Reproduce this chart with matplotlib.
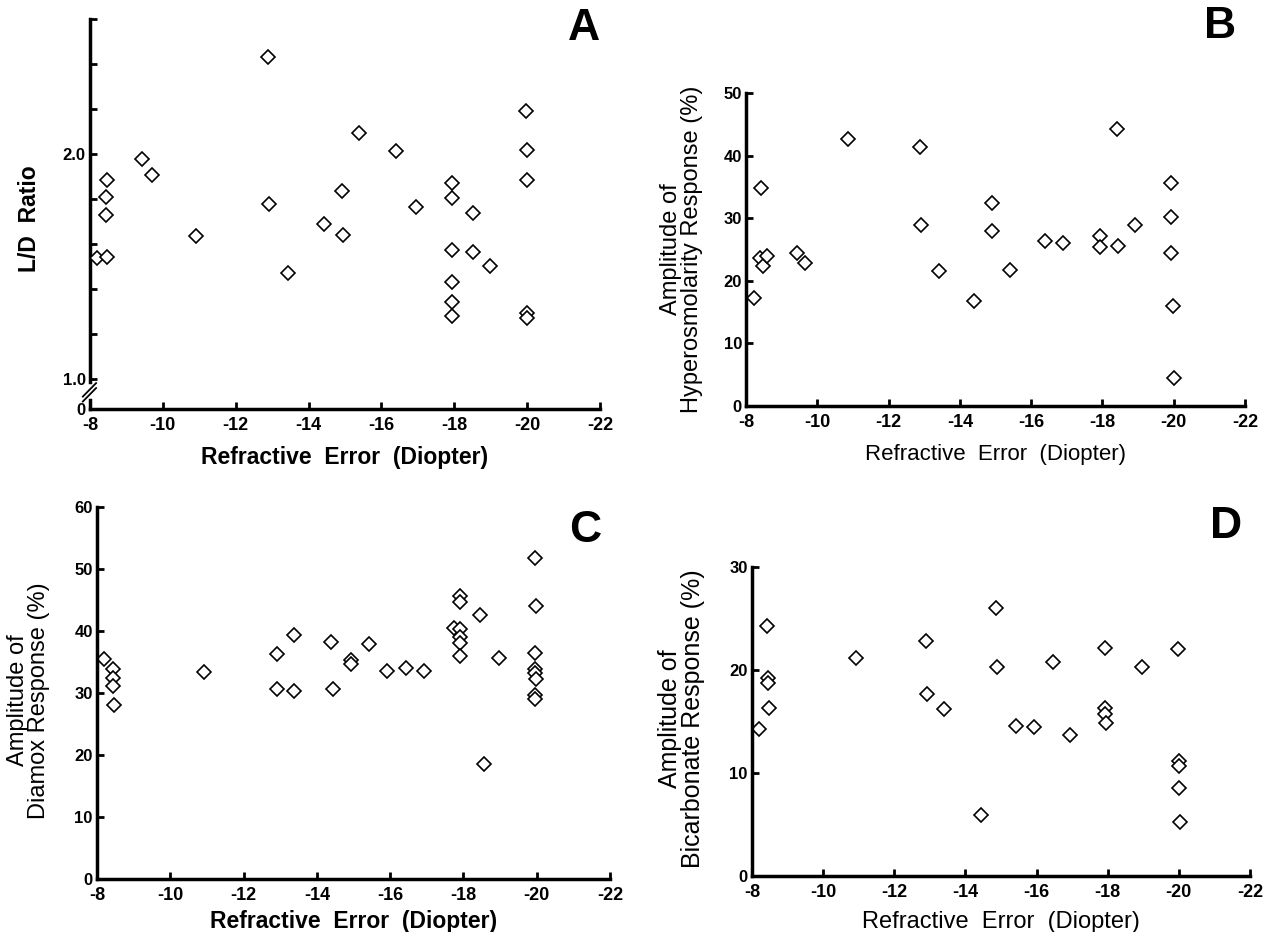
import matplotlib
matplotlib.use("Agg")
import matplotlib.pyplot as plt

plt.rcParams['font.family'] = ['Liberation Sans', 'DejaVu Sans']

# Panel A: L/D ratio vs refractive error
a_x = [-8.2, -8.46, -8.45, -8.45, -8.48, -9.44, -9.7, -10.92, -12.88, -12.9, -13.44,
       -14.42, -14.91, -14.94, -15.39, -16.4, -16.94, -17.94, -17.94, -17.94, -17.94,
       -17.94, -17.94, -18.5, -18.5, -18.99, -19.97, -20.0, -20.0, -20.0, -20.0]
a_y = [1.536, 1.884, 1.81, 1.73, 1.544, 1.979, 1.907, 1.637, 2.43, 1.776, 1.47,
       1.689, 1.836, 1.639, 2.093, 2.012, 1.763, 1.873, 1.803, 1.572, 1.433,
       1.344, 1.28, 1.739, 1.563, 1.502, 2.193, 2.019, 1.883, 1.292, 1.273]

# Panel B: hyperosmolarity response
b_x = [-8.22, -8.42, -8.38, -8.47, -8.6, -9.43, -9.66, -10.87, -12.88, -12.92, -13.4,
       -14.4, -14.9, -14.91, -15.41, -16.4, -16.9, -17.92, -17.92, -18.42, -18.44,
       -18.92, -19.92, -19.92, -19.92, -19.97, -20.0]
b_y = [17.2, 34.9, 23.6, 22.4, 23.9, 24.4, 22.9, 42.6, 41.4, 28.9, 21.5,
       16.7, 32.4, 27.9, 21.7, 26.4, 26.1, 27.1, 25.4, 44.3, 25.5,
       28.9, 35.6, 30.2, 24.4, 16.0, 4.4]

# Panel C: Diamox response
c_x = [-8.19, -8.45, -8.45, -8.44, -8.46, -10.93, -12.9, -12.9, -13.39, -13.39, -14.4,
       -14.44, -14.93, -14.93, -15.41, -15.92, -16.42, -16.92, -17.75, -17.92, -17.92,
       -17.92, -17.92, -17.92, -17.92, -18.45, -18.55, -18.96, -19.96, -19.97, -19.96,
       -19.96, -19.96, -19.98, -19.96, -19.96]
c_y = [35.5, 33.9, 32.4, 31.2, 28.1, 33.4, 36.3, 30.6, 39.3, 30.4, 38.2,
       30.6, 35.3, 34.6, 37.9, 33.5, 34.0, 33.5, 40.5, 45.6, 44.6,
       40.4, 39.0, 38.1, 35.9, 42.5, 18.6, 35.7, 51.7, 44.1, 36.4,
       33.9, 33.2, 32.2, 29.7, 29.0]

# Panel D: bicarbonate response
d_x = [-8.2, -8.41, -8.45, -8.45, -8.47, -10.91, -12.88, -12.92, -13.4, -14.43, -14.86,
       -14.89, -15.42, -15.94, -16.45, -16.93, -17.92, -17.92, -17.92, -17.94, -18.97,
       -19.97, -20.0, -20.0, -20.0, -20.02]
d_y = [14.27, 24.24, 19.26, 18.74, 16.34, 21.2, 22.8, 17.7, 16.2, 5.95, 26.05,
       20.3, 14.56, 14.43, 20.8, 13.66, 22.1, 16.3, 15.76, 14.9, 20.3,
       22.04, 11.2, 10.65, 8.58, 5.24]

x_ticks = [-8, -10, -12, -14, -16, -18, -20, -22]
x_title = "Refractive  Error  (Diopter)"

fig = plt.figure(figsize=(12.69, 9.32), dpi=100)

def style_axes(ax, ymin, ymax, yticks):
    ax.set_xlim(-8, -22)
    ax.set_ylim(ymin, ymax)
    ax.set_xticks(x_ticks)
    ax.set_xticklabels([str(t) for t in x_ticks])
    ax.set_yticks(yticks)
    for s in ['top', 'right']:
        ax.spines[s].set_visible(False)
    for s in ['left', 'bottom']:
        ax.spines[s].set_linewidth(2.5)
    ax.tick_params(direction='in', length=5, width=2)
    ax.tick_params(axis='x', labelsize=13, pad=6)
    ax.tick_params(axis='y', labelsize=12, pad=3)
    for lab in ax.get_xticklabels() + ax.get_yticklabels():
        lab.set_fontweight('bold')

def scatter(ax, x, y):
    ax.plot(x, y, linestyle='none', marker='D', markersize=7.3,
            markerfacecolor='white', markeredgecolor='black', markeredgewidth=1.2,
            clip_on=False)

# A
axA = fig.add_axes([0.0709, 0.5612, 0.402, 0.4184])
a_bottom = 0.867
style_axes(axA, a_bottom, 2.6, [a_bottom, 1.0, 1.2, 1.4, 1.6, 1.8, 2.0, 2.2, 2.4, 2.6])
axA.set_yticklabels(['0', '1.0', '', '', '', '', '2.0', '', '', ''])
axA.spines['left'].set_visible(False)
ytr = axA.get_yaxis_transform()
axA.plot([0, 0], [0.985, 2.6], color='black', lw=2.5, transform=ytr, clip_on=False)
axA.plot([0, 0], [a_bottom, 0.905], color='black', lw=2.5, transform=ytr, clip_on=False)
for dy in (0.0, 0.022):
    axA.plot([-0.014, 0.012], [0.9 + dy, 0.96 + dy], color='black', lw=1.3,
             transform=ytr, clip_on=False)
scatter(axA, a_x, a_y)
axA.set_xlabel(x_title, fontsize=16.5, fontweight='bold')
axA.xaxis.set_label_coords(0.5, -0.095)
axA.set_ylabel("L/D  Ratio", fontsize=16.5, fontweight='bold')
axA.yaxis.set_label_coords(-0.096, 0.487)

# B
axB = fig.add_axes([0.5879, 0.5644, 0.3932, 0.3358])
style_axes(axB, 0, 50, [0, 10, 20, 30, 40, 50])
scatter(axB, b_x, b_y)
axB.set_xlabel(x_title, fontsize=16)
axB.xaxis.set_label_coords(0.5, -0.121)
axB.set_ylabel("Amplitude of\nHyperosmolarity Response (%)", fontsize=17, linespacing=0.95)
axB.yaxis.set_label_coords(-0.086, 0.5)

# C
axC = fig.add_axes([0.0764, 0.0569, 0.4043, 0.3991])
style_axes(axC, 0, 60, [0, 10, 20, 30, 40, 50, 60])
scatter(axC, c_x, c_y)
axC.set_xlabel(x_title, fontsize=16.5, fontweight='bold')
axC.xaxis.set_label_coords(0.5, -0.083)
axC.set_ylabel("Amplitude of\nDiamox Response (%)", fontsize=17, linespacing=0.95)
axC.yaxis.set_label_coords(-0.092, 0.48)

# D
axD = fig.add_axes([0.5926, 0.0601, 0.3924, 0.3315])
style_axes(axD, 0, 30, [0, 10, 20, 30])
scatter(axD, d_x, d_y)
axD.set_xlabel(x_title, fontsize=17)
axD.xaxis.set_label_coords(0.5, -0.113)
axD.set_ylabel("Amplitude of\nBicarbonate Response (%)", fontsize=18, linespacing=0.95)
axD.yaxis.set_label_coords(-0.094, 0.51)

# panel letters
for letter, px, py in [('A', 584, 28), ('B', 1220, 27), ('C', 585, 530), ('D', 1226, 527)]:
    fig.text(px / 1269, 1 - py / 932, letter, fontsize=32, fontweight='bold',
             ha='center', va='center')

fig.savefig("out.png", dpi=100, facecolor='white')
